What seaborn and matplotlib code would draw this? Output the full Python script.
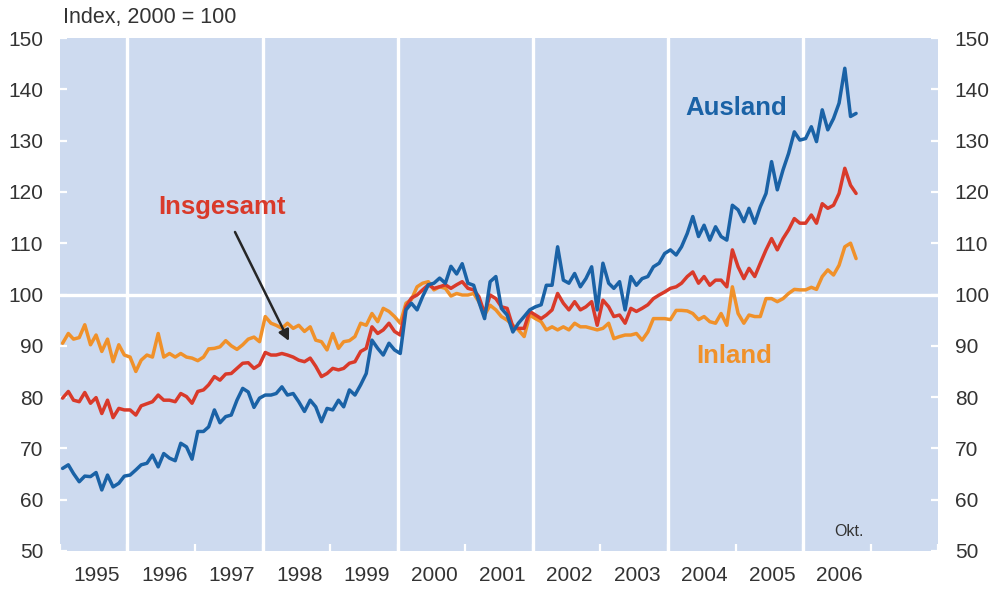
import matplotlib
matplotlib.use("Agg")
import matplotlib.pyplot as plt
import matplotlib.dates as mdates
from matplotlib.ticker import FixedLocator, NullFormatter
import seaborn as sns
import pandas as pd

# ---------------- data (monthly, Jan 1995 - Oct 2006) ----------------
ausland = [
    66.1, 66.8, 65.1, 63.5, 64.6, 64.5, 65.3, 61.9, 64.8, 62.5, 63.2, 64.6,   # 1995
    64.8, 65.8, 66.8, 67.1, 68.7, 66.4, 69.0, 68.1, 67.6, 71.0, 70.3, 67.9,   # 1996
    73.3, 73.3, 74.2, 77.5, 75.0, 76.2, 76.5, 79.4, 81.7, 81.0, 78.0, 79.8,   # 1997
    80.4, 80.4, 80.7, 82.0, 80.4, 80.7, 79.1, 77.2, 79.4, 78.1, 75.2, 77.8,   # 1998
    77.5, 79.4, 78.1, 81.4, 80.4, 82.4, 84.6, 91.1, 89.5, 88.2, 90.5, 89.2,   # 1999
    88.5, 97.0, 98.3, 97.0, 99.6, 101.9, 102.2, 103.2, 102.2, 105.5, 104.0, 106.0,  # 2000
    102.2, 101.8, 98.6, 95.3, 102.5, 103.5, 97.3, 96.0, 92.7, 94.4, 95.7, 97.0,     # 2001
    97.6, 98.0, 101.8, 101.8, 109.3, 102.8, 102.2, 104.1, 101.5, 103.1, 105.4, 97.0, # 2002
    106.1, 102.2, 101.2, 102.5, 97.0, 103.5, 101.8, 103.1, 103.5, 105.4, 106.1, 108.0,  # 2003
    108.7, 107.7, 109.3, 111.9, 115.2, 111.3, 113.5, 110.6, 113.2, 111.3, 110.6, 117.4, # 2004
    116.5, 114.2, 116.8, 113.9, 117.1, 119.7, 125.9, 120.4, 124.3, 127.5, 131.7, 130.1, # 2005
    130.4, 132.7, 129.8, 136.0, 132.1, 134.3, 137.3, 144.1, 134.7, 135.3,               # 2006
]
insgesamt = [
    79.8, 81.1, 79.4, 79.1, 80.9, 78.8, 79.9, 76.8, 79.4, 76.0, 77.8, 77.5,
    77.5, 76.5, 78.3, 78.7, 79.1, 80.4, 79.4, 79.4, 79.1, 80.7, 80.1, 78.8,
    81.1, 81.4, 82.4, 84.0, 83.3, 84.5, 84.6, 85.6, 86.6, 86.7, 85.6, 86.3,
    88.7, 88.2, 88.2, 88.5, 88.2, 87.8, 87.2, 86.9, 87.6, 86.0, 84.0, 84.6,
    85.6, 85.3, 85.6, 86.6, 86.9, 88.9, 89.5, 93.7, 92.4, 93.1, 94.4, 92.8,
    92.1, 97.6, 99.3, 99.9, 100.9, 101.9, 101.2, 101.5, 101.9, 101.2, 101.9, 102.5,
    101.2, 100.9, 99.6, 96.3, 99.9, 99.2, 97.6, 97.3, 93.7, 93.4, 93.4, 96.7,
    96.0, 95.3, 96.0, 97.0, 100.2, 98.3, 97.0, 98.6, 97.0, 97.6, 98.6, 94.0,
    98.9, 97.6, 95.7, 96.0, 94.4, 97.3, 96.7, 97.3, 98.0, 99.2, 99.9, 100.5,
    101.2, 101.5, 102.2, 103.5, 104.4, 102.2, 103.5, 101.8, 102.8, 102.8, 101.5, 108.7,
    105.4, 103.1, 105.1, 103.5, 106.1, 108.7, 110.9, 108.7, 110.9, 112.6, 114.8, 113.9,
    113.9, 115.5, 113.9, 117.7, 116.8, 117.4, 119.7, 124.6, 121.3, 119.7,
]
inland = [
    90.5, 92.4, 91.3, 91.6, 94.1, 90.2, 92.1, 88.9, 91.3, 86.9, 90.2, 88.2,
    87.8, 85.0, 87.2, 88.2, 87.8, 92.4, 87.8, 88.5, 87.8, 88.5, 87.8, 87.6,
    87.1, 87.8, 89.4, 89.5, 89.8, 91.0, 90.0, 89.3, 90.2, 91.3, 91.7, 90.8,
    95.7, 94.4, 94.0, 93.4, 94.4, 93.4, 94.0, 92.8, 93.7, 91.1, 90.8, 89.2,
    92.4, 89.5, 90.8, 91.0, 91.8, 94.4, 94.0, 96.3, 94.7, 97.3, 96.7, 95.7,
    94.4, 98.3, 99.0, 101.5, 102.2, 102.5, 100.9, 101.5, 101.2, 99.7, 100.2, 99.9,
    99.9, 100.2, 98.6, 96.0, 97.9, 97.0, 95.7, 95.0, 94.0, 93.1, 91.8, 96.0,
    95.3, 94.7, 93.1, 93.7, 93.1, 93.7, 93.1, 94.4, 93.7, 93.7, 93.4, 93.1,
    93.4, 94.4, 91.4, 91.8, 92.1, 92.1, 92.4, 91.1, 92.7, 95.3, 95.3, 95.3,
    95.1, 96.9, 96.9, 96.8, 96.3, 95.1, 95.7, 94.7, 94.4, 96.3, 94.0, 101.5,
    96.3, 94.4, 96.0, 95.7, 95.7, 99.2, 99.2, 98.6, 99.2, 100.2, 101.0, 100.9,
    100.9, 101.4, 101.0, 103.5, 104.8, 103.8, 105.7, 109.3, 110.0, 107.0,
]
series_names = ["Inland", "Insgesamt", "Ausland"]
year_labels = list(range(1995, 2007))
y_ticks = list(range(50, 151, 10))

months = pd.date_range("1995-01-01", "2006-10-01", freq="MS") + pd.Timedelta(days=14)
assert len(months) == len(ausland) == len(insgesamt) == len(inland)

df = pd.concat([
    pd.DataFrame({"Monat": months, "Index": inland, "Reihe": "Inland"}),
    pd.DataFrame({"Monat": months, "Index": insgesamt, "Reihe": "Insgesamt"}),
    pd.DataFrame({"Monat": months, "Index": ausland, "Reihe": "Ausland"}),
], ignore_index=True)

# ---------------- style ----------------
sns.set_style("white")
plt.rcParams["font.family"] = ["Liberation Sans", "DejaVu Sans"]

BG = "#cddaef"
BLUE = "#1a62a6"
RED = "#d93a2a"
ORANGE = "#f0912a"
TXT = "#333333"
palette = {"Inland": ORANGE, "Insgesamt": RED, "Ausland": BLUE}

W, H = 992, 589
fig = plt.figure(figsize=(W / 100, H / 100), dpi=100)
L, R, T, B = 60, 938, 38, 551
ax = fig.add_axes([L / W, 1 - B / H, (R - L) / W, (B - T) / H])
ax.set_facecolor(BG)

# white grid lines (every two years, and the 100 line)
for yr in range(1996, 2007, 2):
    ax.axvline(pd.Timestamp(f"{yr}-01-01"), color="white", lw=2.4, zorder=1)
ax.axhline(100, color="white", lw=2.4, zorder=1)

sns.lineplot(data=df, x="Monat", y="Index", hue="Reihe", hue_order=series_names,
             palette=palette, linewidth=2.5, legend=False, ax=ax, zorder=3)

ax.set_xlim(pd.Timestamp("1995-01-01"), pd.Timestamp("2008-01-01"))
ax.set_ylim(50, 150)
ax.set_xlabel("")
ax.set_ylabel("")
for s in ax.spines.values():
    s.set_visible(False)

# x axis: small white ticks at year boundaries, labels centred on years
ax.xaxis.set_major_locator(mdates.YearLocator())
ax.xaxis.set_major_formatter(NullFormatter())
ax.xaxis.set_minor_locator(FixedLocator(
    mdates.date2num([pd.Timestamp(f"{y}-07-18") for y in year_labels])))
ax.xaxis.set_minor_formatter(mdates.DateFormatter("%Y"))
ax.tick_params(axis="x", which="major", direction="in", color="white",
               length=5, width=1.6, bottom=True, top=False)
ax.tick_params(axis="x", which="minor", length=0, labelsize=15,
               labelcolor=TXT, pad=11)

# y axis on both sides
ax.set_yticks(y_ticks)
ax.tick_params(axis="y", direction="in", color="white", length=5, width=1.6,
               left=True, right=True, labelleft=True, labelright=True,
               labelsize=15, labelcolor=TXT, pad=12)

# texts
fig.text(63 / W, 1 - 18 / H, "Index, 2000 = 100", fontsize=15.5, color=TXT,
         ha="left", va="center")
fig.text(736 / W, 1 - 108 / H, "Ausland", fontsize=18.5, fontweight="bold",
         color=BLUE, ha="center", va="center")
fig.text(222 / W, 1 - 207 / H, "Insgesamt", fontsize=18.5, fontweight="bold",
         color=RED, ha="center", va="center")
fig.text(734 / W, 1 - 356 / H, "Inland", fontsize=18.5, fontweight="bold",
         color=ORANGE, ha="center", va="center")
fig.text(849 / W, 1 - 532 / H, "Okt.", fontsize=11.5, color=TXT,
         ha="center", va="center")

ax.annotate("", xy=(289 / W, 1 - 341 / H), xytext=(235 / W, 1 - 232 / H),
            xycoords="figure fraction", textcoords="figure fraction",
            arrowprops=dict(arrowstyle="-|>", color="#262626", lw=1.8,
                            mutation_scale=16, shrinkA=0, shrinkB=0))

fig.savefig("out.png", dpi=100, facecolor="white")
